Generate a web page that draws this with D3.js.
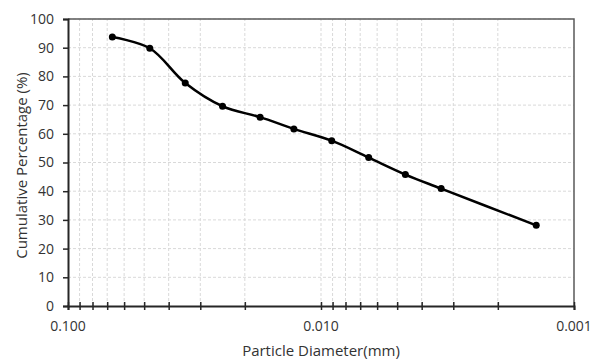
<!DOCTYPE html>
<html>
<head>
<meta charset="utf-8">
<script src="https://cdn.jsdelivr.net/npm/d3@7"></script>
<style>
  body { margin: 0; background: #fff; }
  svg { display: block; font-family: "Open Sans", sans-serif; }
  .grid line { stroke: #d9d9d9; stroke-width: 1; stroke-dasharray: 3 2; }
</style>
</head>
<body>
<div id="chart"></div>
<script>
// particle diameter (mm) and cumulative % passing
const diameters = [0.0668, 0.0475, 0.0344, 0.0245, 0.0174, 0.0128, 0.00907, 0.00648, 0.00464, 0.00335, 0.00141];
const percents = [93.7, 89.8, 77.7, 69.6, 65.8, 61.7, 57.6, 51.7, 45.8, 40.9, 28.1];
const xTickLabels = [0.1, 0.01, 0.001];
const yTicks = [0, 10, 20, 30, 40, 50, 60, 70, 80, 90, 100];

const W = 593, H = 360;
const m = { left: 68, right: 19, top: 19, bottom: 54 };

const svg = d3.select("#chart").append("svg")
    .attr("width", W)
    .attr("height", H);

// reversed log axis: coarse on the left
const x = d3.scaleLog().domain([0.1, 0.001]).range([m.left, W - m.right]);
const y = d3.scaleLinear().domain([0, 100]).range([H - m.bottom, m.top]);

// all the 1..9 x 10^n ticks
const minor = [];
[0.01, 0.001].forEach(base => {
    for (let k = 1; k <= 9; k++) minor.push(+(base * k).toPrecision(3));
});
minor.push(0.1);

// grid
const grid = svg.append("g").attr("class", "grid");
grid.selectAll(".v")
    .data(minor.filter(d => d < 0.1 && d > 0.001))
    .join("line")
    .attr("x1", d => x(d)).attr("x2", d => x(d))
    .attr("y1", y(0)).attr("y2", y(100));
grid.selectAll(".h")
    .data(yTicks.slice(1))
    .join("line")
    .attr("x1", x(0.1)).attr("x2", x(0.001))
    .attr("y1", d => y(d)).attr("y2", d => y(d));

// plot frame (top and right)
svg.append("path")
    .attr("d", `M${x(0.1)},${y(100)}H${x(0.001)}V${y(0)}`)
    .attr("fill", "none")
    .attr("stroke", "#595959")
    .attr("stroke-width", 1.5);

// y axis
const yAxis = svg.append("g")
    .attr("transform", `translate(${m.left},0)`)
    .call(d3.axisLeft(y).tickValues(yTicks).tickSize(5).tickPadding(9));
yAxis.select(".domain").attr("stroke", "#262626").attr("stroke-width", 2);
yAxis.selectAll(".tick line").attr("stroke", "#262626").attr("stroke-width", 1.5);

// x axis, ticks cross the line
const xAxis = svg.append("g")
    .attr("transform", `translate(0,${y(0)})`)
    .call(d3.axisBottom(x).tickValues(minor).tickSize(4).tickFormat(""));
xAxis.select(".domain").attr("stroke", "#262626").attr("stroke-width", 2);
xAxis.selectAll(".tick line")
    .attr("y1", -4)
    .attr("stroke", "#262626").attr("stroke-width", 1.5);

svg.selectAll(".tick text")
    .attr("font-size", 14)
    .attr("font-family", "Open Sans, sans-serif")
    .attr("fill", "#333");

svg.append("g")
    .selectAll("text")
    .data(xTickLabels)
    .join("text")
    .attr("x", d => x(d))
    .attr("y", y(0) + 25)
    .attr("text-anchor", "middle")
    .attr("font-size", 14)
    .attr("fill", "#333")
    .text(d3.format(".3f"));

// axis titles
svg.append("text")
    .attr("x", (x(0.1) + x(0.001)) / 2)
    .attr("y", H - 4)
    .attr("text-anchor", "middle")
    .attr("font-size", 15)
    .attr("fill", "#333")
    .text("Particle Diameter(mm)");

svg.append("text")
    .attr("transform", `translate(27,${(y(0) + y(100)) / 2 + 3}) rotate(-90)`)
    .attr("text-anchor", "middle")
    .attr("font-size", 15)
    .attr("fill", "#333")
    .text("Cumulative Percentage (%)");

// series
const pts = diameters.map((d, i) => [d, percents[i]]);
const line = d3.line()
    .x(d => x(d[0]))
    .y(d => y(d[1]))
    .curve(d3.curveCatmullRom.alpha(0.5));

svg.append("path")
    .datum(pts)
    .attr("d", line)
    .attr("fill", "none")
    .attr("stroke", "#000")
    .attr("stroke-width", 2.5);

svg.append("g")
    .selectAll("circle")
    .data(pts)
    .join("circle")
    .attr("cx", d => x(d[0]))
    .attr("cy", d => y(d[1]))
    .attr("r", 3.5)
    .attr("fill", "#000");
</script>
</body>
</html>
